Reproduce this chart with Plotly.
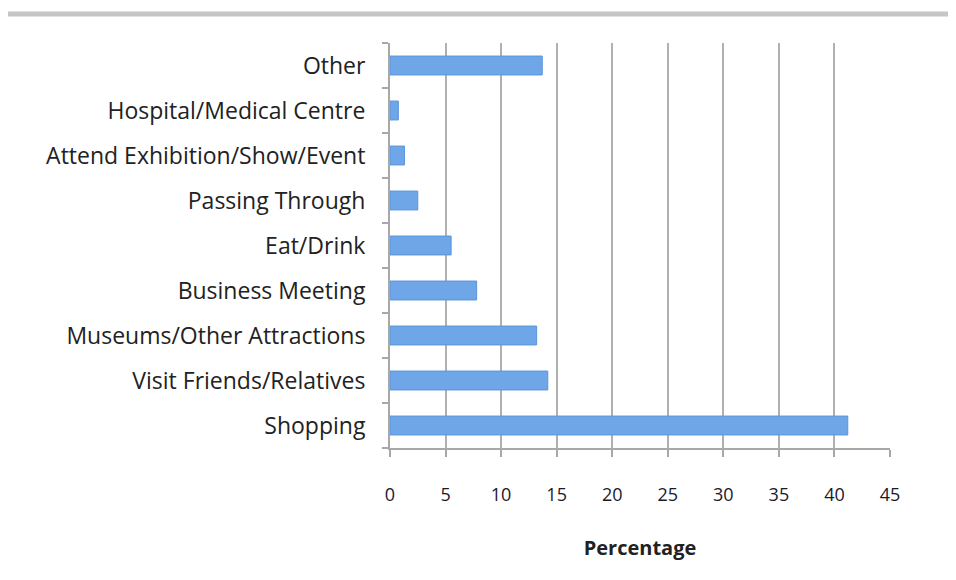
import plotly.graph_objects as go

# purpose of visit, bottom to top as drawn
categories = ['Shopping', 'Visit Friends/Relatives', 'Museums/Other Attractions',
              'Business Meeting', 'Eat/Drink', 'Passing Through',
              'Attend Exhibition/Show/Event', 'Hospital/Medical Centre', 'Other']
percentages = [41.2, 14.2, 13.2, 7.8, 5.5, 2.5, 1.3, 0.75, 13.7]
x_ticks = [0, 5, 10, 15, 20, 25, 30, 35, 40, 45]

# page body adds an 8px offset, so the figure is drawn a bit smaller
OFF = 8
W, H = 956 - OFF, 580 - OFF
L, R, T, B = 390 - OFF, 66, 43 - OFF, 132
pw, ph = W - L - R, H - T - B


def px(x):
    return (x - OFF - L) / pw


def py(y):
    return (H - B - (y - OFF)) / ph


fig = go.Figure(go.Bar(
    x=percentages, y=categories, orientation='h', width=0.42,
    marker=dict(color='#6ea6e7', line=dict(color='#5a94dc', width=1)),
))

fig.update_layout(
    width=W, height=H, margin=dict(l=L, r=R, t=T, b=B),
    paper_bgcolor='white', plot_bgcolor='white', showlegend=False,
    font=dict(family='Open Sans', color='#222222'),
    shapes=[
        # grey frame edge along the top of the screenshot
        dict(type='rect', xref='paper', yref='paper', x0=px(5), x1=px(960),
             y0=py(16.5), y1=py(11.5), fillcolor='#c6c6c6', line_width=0, layer='below'),
    ],
)

fig.update_xaxes(
    range=[0, 45], tickvals=x_ticks, showgrid=True, gridcolor='#b0b0b0', gridwidth=2,
    showline=True, linecolor='#a8a8a8', linewidth=2, ticks='outside', ticklen=7,
    tickcolor='#a8a8a8', tickwidth=2, zeroline=False, ticklabelstandoff=22,
    tickfont=dict(size=18, color='#1a1a2a'),
    title=dict(text='<b>Percentage</b>', font=dict(size=20, color='#222222'), standoff=36),
)
fig.update_yaxes(
    showline=True, linecolor='#a8a8a8', linewidth=2, ticks='outside', ticklen=6,
    tickcolor='#a8a8a8', tickwidth=2, tickson='boundaries', showgrid=False,
    tickfont=dict(size=23, color='#222222'), ticklabelstandoff=18,
)

fig.write_html('out.html')
